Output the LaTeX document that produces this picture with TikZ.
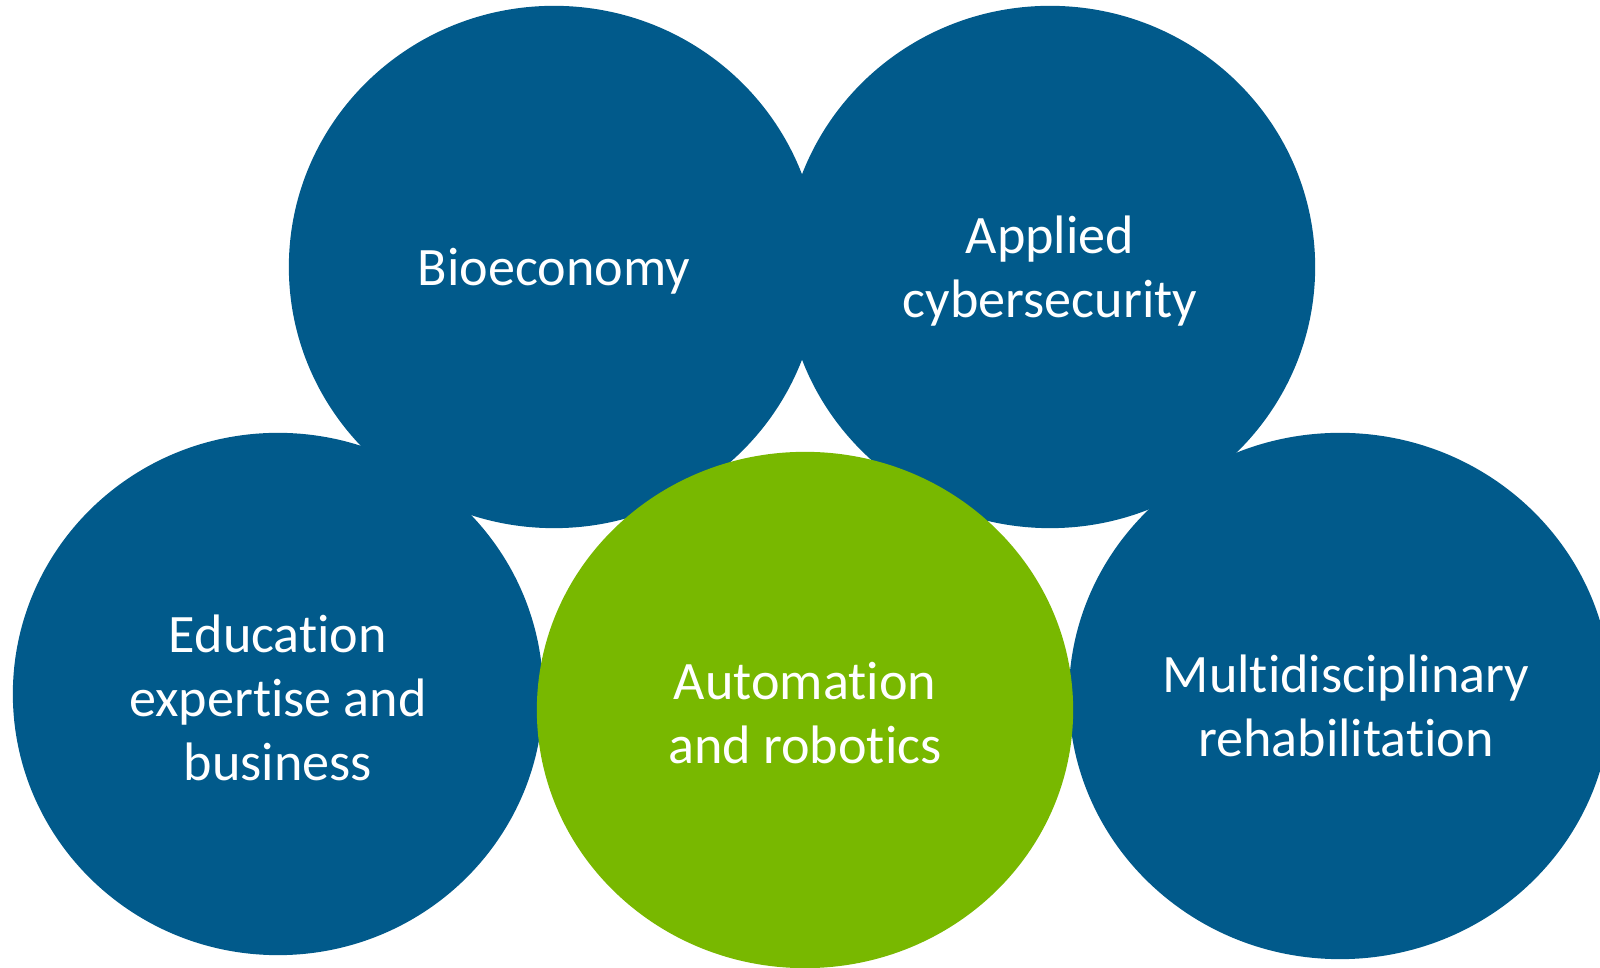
\documentclass[tikz,border=0pt]{standalone}
\usepackage{fontspec}
\setmainfont{Carlito}[Ligatures=NoCommon]
\usetikzlibrary{shapes.geometric}
\definecolor{areablue}{RGB}{1,90,139}
\definecolor{areagreen}{RGB}{120,184,0}
\tikzset{
  area/.style={ellipse, inner sep=0pt, minimum width=5.3cm, minimum height=5.22cm},
  areatext/.style={text=white, align=center, inner sep=0pt,
    font=\fontsize{15.4}{18.3}\selectfont},
}
\begin{document}
\begin{tikzpicture}[x=0.01cm, y=-0.01cm]
            % Page frame, same size as the picture
            \useasboundingbox (0,0) rectangle (1600,968);
            \clip (0,0) rectangle (1600,968);
            % The blue research areas
            \foreach \nm/\cx/\cy/\lab in {
              edu/278/694/{Education\\expertise and\\business},
              bio/554/267/{Bioeconomy},
              cyber/1050/267/{Applied\\cybersecurity}} {
              \node [area, fill=areablue] (\nm) at (\cx, \cy) {};
              \node [areatext] (\nm-text) at (\cx, \cy + 4) {\lab};
            }
            % The far right area runs off the page
            \node [area, fill=areablue, minimum width=5.42cm, minimum height=5.26cm]
              (rehab) at (1340, 696) {};
            \node [areatext] (rehab-text) at (1346, 706) {Multidisciplinary\\rehabilitation};
            % The green area in front
            \node [area, fill=areagreen, minimum width=5.36cm, minimum height=5.16cm]
              (auto) at (805, 710) {};
            \node [areatext] (auto-text) at (805, 713) {Automation\\and robotics};
        \end{tikzpicture}
\end{document}
